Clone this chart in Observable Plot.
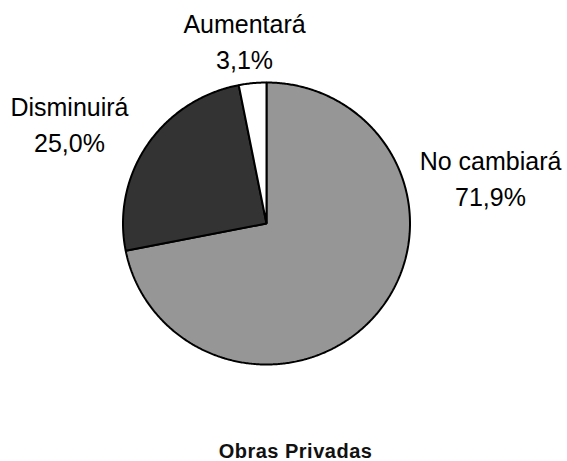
<!DOCTYPE html>
<html>
<head>
<meta charset="utf-8">
<script src="https://cdn.jsdelivr.net/npm/d3@7"></script>
<script src="https://cdn.jsdelivr.net/npm/@observablehq/plot@0.6"></script>
<style>
  html, body { margin: 0; padding: 0; background: #fff; }
  #wrap { width: 567px; font-family: "Liberation Sans", Arial, sans-serif; }
  #title { width: 567px; box-sizing: border-box; padding-left: 24px; text-align: center;
           font-weight: bold; font-size: 20px; letter-spacing: 0.5px; line-height: 26px; color: #111; }
</style>
</head>
<body>
<div id="wrap"><div id="chart"></div><div id="title">Obras Privadas</div></div>
<script>
// Data
const categories = ["No cambiará", "Disminuirá", "Aumentará"];
const shares = [71.9, 25.0, 3.1];
const sliceColors = ["#969696", "#333333", "#ffffff"];
// Label anchor layout (chart units, pie radius = 1)
const labelX = [1.561, -1.373, -0.153];
const labelY = [0.121, 0.504, 1.099];

const rows = categories.map((c, i) => ({cat: c, share: shares[i]}));
const fmt = v => v.toFixed(1).replace(".", ",") + "%";

const arcs = d3.pie().sort(null).value(d => d.share)(rows);
const pts = [];
arcs.forEach(a => {
  const cat = a.data.cat;
  const n = Math.max(2, Math.ceil((a.endAngle - a.startAngle) / (Math.PI / 360)));
  pts.push({cat, x: 0, y: 0});
  for (let i = 0; i <= n; i++) {
    const t = a.startAngle + (a.endAngle - a.startAngle) * i / n;
    pts.push({cat, x: Math.sin(t), y: Math.cos(t)});
  }
});

const labels = rows.map((d, i) => ({...d, lx: labelX[i], ly: labelY[i]}));

const chart = Plot.plot({
  width: 567,
  height: 438,
  margin: 0,
  style: {fontFamily: "'Liberation Sans', Arial, sans-serif", background: "#fff"},
  x: {domain: [-1, 1], range: [122.5, 409.5], axis: null},
  y: {domain: [-1, 1], range: [364, 82], axis: null},
  color: {domain: categories, range: sliceColors},
  marks: [
    Plot.line(pts, {x: "x", y: "y", z: "cat", fill: "cat", stroke: "#000", strokeWidth: 2, curve: "linear-closed", strokeLinejoin: "miter"}),
    Plot.text(labels, {x: "lx", y: "ly", text: d => d.cat + "\n" + fmt(d.share),
      textAnchor: "middle", lineAnchor: "bottom", lineHeight: 1.44, fontSize: 25, fill: "#000"})
  ]
});
document.getElementById("chart").appendChild(chart);
</script>
</body>
</html>
